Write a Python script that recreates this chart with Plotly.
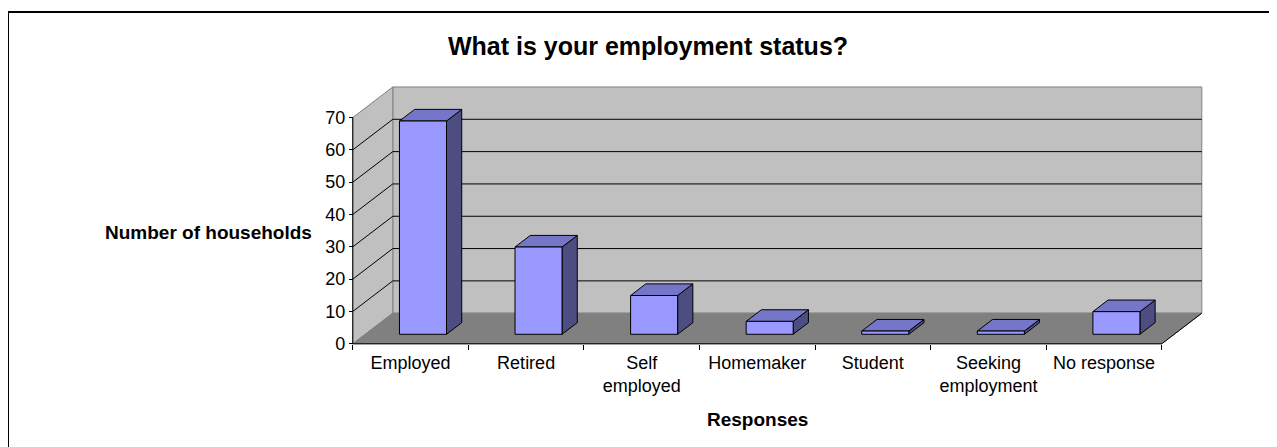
import plotly.graph_objects as go

# ---------------- data ----------------
categories = ["Employed", "Retired", "Self<br>employed", "Homemaker", "Student",
              "Seeking<br>employment", "No response"]
households = [66, 27, 12, 4, 1, 1, 7]
y_ticks = [0, 10, 20, 30, 40, 50, 60, 70]

chart_title = "What is your employment status?"
x_title = "Responses"
y_title = "Number of households"

# ---------------- geometry / style ----------------
OFF = 8                      # page body margin
W, H = 1277 - OFF, 447 - OFF
ML, MR, MT, MB = 347 - OFF, 69, 82 - OFF, 100
XR = [-0.55, 6.9]
YR = [-1, 81]
DX = 0.3464        # depth offset (category units)
DY = 9.46          # depth offset (value units)
YMAX = 70
FRONT, DEPTH, HALF = 0.31, 0.38, 0.2035
FONT = "Liberation Sans, Arial, sans-serif"

PW = W - ML - MR
PH = H - MT - MB


def pxx(px):
    return (px - OFF - ML) / PW


def pxy(py):
    return (H - MB - (py - OFF)) / PH


n = len(categories)
xl, xr = -0.5, n - 0.5

fig = go.Figure()


def poly(xs, ys, fill, line="#808080", lw=1):
    fig.add_trace(go.Scatter(x=xs, y=ys, mode="lines", fill="toself",
                             fillcolor=fill, line=dict(color=line, width=lw),
                             hoverinfo="skip", showlegend=False))


def seg(xs, ys, color="#000000", lw=1):
    fig.add_trace(go.Scatter(x=xs, y=ys, mode="lines",
                             line=dict(color=color, width=lw),
                             hoverinfo="skip", showlegend=False))


# back wall
poly([xl + DX, xr + DX, xr + DX, xl + DX, xl + DX],
     [DY, DY, YMAX + DY, YMAX + DY, DY], "#C0C0C0")
# side wall
poly([xl, xl + DX, xl + DX, xl, xl],
     [0, DY, YMAX + DY, YMAX, 0], "#C0C0C0")
# floor
poly([xl, xr, xr + DX, xl + DX, xl],
     [0, 0, DY, DY, 0], "#808080")

# gridlines (back wall + side wall)
gx, gy = [], []
for v in y_ticks[1:-1]:
    gx += [xl, xl + DX, xr + DX, None]
    gy += [v, v + DY, v + DY, None]
seg(gx, gy, "#000000", 1)

# floor right edge
seg([xr, xr + DX], [0, DY], "#000000", 1)

# bars
fx, fy, tx, ty, sx, sy = [], [], [], [], [], []
for i, v in enumerate(households):
    c = i + FRONT * DX
    x0, x1 = c - HALF, c + HALF
    yb = FRONT * DY
    yt = yb + v
    ddx, ddy = DEPTH * DX, DEPTH * DY
    fx += [x0, x1, x1, x0, x0, None]
    fy += [yb, yb, yt, yt, yb, None]
    tx += [x0, x1, x1 + ddx, x0 + ddx, x0, None]
    ty += [yt, yt, yt + ddy, yt + ddy, yt, None]
    sx += [x1, x1 + ddx, x1 + ddx, x1, x1, None]
    sy += [yb, yb + ddy, yt + ddy, yt, yb, None]
poly(sx, sy, "#4D4D82", "#000000", 1)
poly(tx, ty, "#7676C8", "#000000", 1)
poly(fx, fy, "#9999FF", "#000000", 1)

# axis lines
seg([xl, xl], [0, YMAX], "#000000", 1)
seg([xl, xr], [0, 0], "#000000", 1)

fig.update_layout(
    width=W, height=H,
    margin=dict(l=ML, r=MR, t=MT, b=MB, pad=0),
    paper_bgcolor="white", plot_bgcolor="white",
    font=dict(family=FONT, color="#000000"),
    xaxis=dict(range=XR, showgrid=False, zeroline=False, showline=False,
               tickmode="array", tickvals=list(range(n)), ticktext=categories,
               ticks="", tickfont=dict(size=18, family=FONT),
               ticklabelstandoff=6,
               anchor="free", position=pxy(343.8),
               minor=dict(tickmode="array", tickvals=[k - 0.5 for k in range(n + 1)],
                          ticks="outside", ticklen=5, tickcolor="#000000",
                          showgrid=False)),
    yaxis=dict(range=YR, showgrid=False, zeroline=False, showline=False,
               tickmode="array", tickvals=y_ticks, ticks="outside", ticklen=4,
               tickcolor="#000000", tickfont=dict(size=18, family=FONT),
               anchor="free", position=pxx(352.8)),
    annotations=[
        dict(text="<b>" + chart_title + "</b>", xref="paper", yref="paper",
             x=pxx(648), y=pxy(46), xanchor="center", yanchor="middle",
             showarrow=False, font=dict(size=25, family=FONT)),
        dict(text="<b>" + y_title + "</b>", xref="paper", yref="paper",
             x=pxx(208), y=pxy(232), xanchor="center", yanchor="middle",
             showarrow=False, font=dict(size=19, family=FONT)),
        dict(text="<b>" + x_title + "</b>", xref="paper", yref="paper",
             x=pxx(757), y=pxy(419), xanchor="center", yanchor="middle",
             showarrow=False, font=dict(size=19, family=FONT)),
    ],
    shapes=[dict(type="rect", xref="paper", yref="paper",
                 x0=pxx(8), x1=pxx(1300), y0=pxy(12), y1=pxy(470),
                 line=dict(color="#000000", width=2), fillcolor="rgba(0,0,0,0)",
                 layer="above")],
)

fig.write_html("out.html")
